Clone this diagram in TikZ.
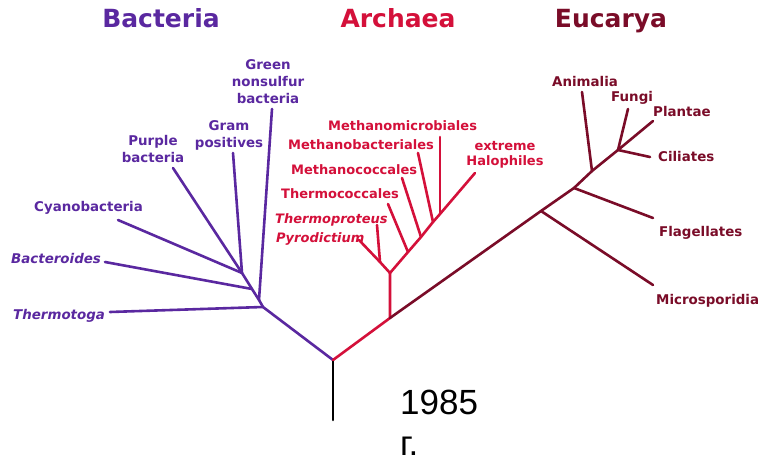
\documentclass[tikz,border=0pt]{standalone}
\usepackage{fontspec}
\setmainfont{DejaVu Sans}
\newfontfamily\arialf{Liberation Sans}
\definecolor{bact}{RGB}{90,40,160}
\definecolor{arch}{RGB}{212,16,58}
\definecolor{euca}{RGB}{122,12,40}
\tikzset{
  lbl/.style={inner sep=0pt, font=\fontsize{13.4}{17}\selectfont\bfseries},
  ilbl/.style={inner sep=0pt, font=\fontsize{13.4}{17}\selectfont\bfseries\itshape},
  albl/.style={inner sep=0pt, font=\fontsize{13}{17}\selectfont\bfseries},
  ailbl/.style={inner sep=0pt, font=\fontsize{13}{17}\selectfont\bfseries\itshape},
  ttl/.style={inner sep=0pt, font=\fontsize{25}{30}\selectfont\bfseries, anchor=base},
  br/.style={line width=2.6pt, line cap=round, line join=round},
}
\begin{document}
\begin{tikzpicture}[x=1pt,y=-1pt]
\useasboundingbox (0,0) rectangle (761,462);
\clip (0,0) rectangle (761,462);
\fill[white] (0,0) rectangle (761,462);

% titles
\node[ttl, text=bact] (tB) at (161,28) {Bacteria};
\node[ttl, text=arch] (tA) at (398,28) {Archaea};
\node[ttl, text=euca] (tE) at (611,28) {Eucarya};

% tree points
\coordinate (R0) at (333,420);
\coordinate (R) at (333,360);
\coordinate (B1) at (263,307);
\coordinate (B2) at (259,300);
\coordinate (B3) at (252,289);
\coordinate (B4) at (242,273);
\coordinate (eThermotoga) at (110,312);
\coordinate (eGreen) at (272,109);
\coordinate (eBacteroides) at (105,262);
\coordinate (eCyano) at (118,220);
\coordinate (ePurple) at (173,168);
\coordinate (eGram) at (233,153);

\coordinate (A1) at (390,318);
\coordinate (A2) at (390,273);
\coordinate (J) at (380,262);
\coordinate (ePyro) at (359,240);
\coordinate (eThermoproteus) at (377,225);
\coordinate (C1) at (408,252);
\coordinate (C2) at (421,237);
\coordinate (C3) at (433,222);
\coordinate (C4) at (440,214);
\coordinate (eHalo) at (475,173);
\coordinate (eThermococ) at (388,204);
\coordinate (eMethcoc) at (402,178);
\coordinate (eMethbac) at (418,153);
\coordinate (eMethmic) at (440,137);

\coordinate (E1) at (541,211);
\coordinate (E2) at (574,188);
\coordinate (E3) at (592,171);
\coordinate (E4) at (618,150);
\coordinate (eMicro) at (653,285);
\coordinate (eFlag) at (653,218);
\coordinate (eAnim) at (582,92);
\coordinate (eCil) at (650,157);
\coordinate (eFungi) at (628,109);
\coordinate (ePlant) at (653,121);

% branches
\draw[br, black] (R0) -- (R);
\draw[br, bact] (R) -- (B1) -- (B2) -- (B3) -- (B4);
\draw[br, bact] (B1) -- (eThermotoga);
\draw[br, bact] (B2) -- (eGreen);
\draw[br, bact] (B3) -- (eBacteroides);
\draw[br, bact] (B4) -- (eCyano);
\draw[br, bact] (B4) -- (ePurple);
\draw[br, bact] (B4) -- (eGram);

\draw[br, arch] (R) -- (A1) -- (A2);
\draw[br, arch] (A2) -- (J) -- (ePyro);
\draw[br, arch] (J) -- (eThermoproteus);
\draw[br, arch] (A2) -- (C1) -- (C2) -- (C3) -- (C4) -- (eHalo);
\draw[br, arch] (C1) -- (eThermococ);
\draw[br, arch] (C2) -- (eMethcoc);
\draw[br, arch] (C3) -- (eMethbac);
\draw[br, arch] (C4) -- (eMethmic);

\draw[br, euca] (A1) -- (E1) -- (E2) -- (E3) -- (E4) -- (ePlant);
\draw[br, euca] (E1) -- (eMicro);
\draw[br, euca] (E2) -- (eFlag);
\draw[br, euca] (E3) -- (eAnim);
\draw[br, euca] (E4) -- (eCil);
\draw[br, euca] (E4) -- (eFungi);

% bacteria labels (multi-line: anchor=base is the last line's baseline)
\node[lbl, text=bact, align=center, anchor=base] (lGreen) at (268,104) {Green\\nonsulfur\\bacteria};
\node[lbl, text=bact, align=center, anchor=base] (lGram) at (229,148) {Gram\\positives};
\node[lbl, text=bact, align=center, anchor=base] (lPurple) at (153,163) {Purple\\bacteria};
\node[lbl, text=bact, anchor=base west] (lCyano) at (34,212) {Cyanobacteria};
\node[ilbl, text=bact, anchor=base west] (lBacteroides) at (11,264) {Bacteroides};
\node[ilbl, text=bact, anchor=base west] (lThermotoga) at (13,320) {Thermotoga};

% archaea labels
\node[albl, text=arch, anchor=base west] (lMethmic) at (328,131) {Methanomicrobiales};
\node[albl, text=arch, anchor=base west] (lMethbac) at (288,150) {Methanobacteriales};
\node[albl, text=arch, anchor=base west] (lMethcoc) at (291,175) {Methanococcales};
\node[albl, text=arch, anchor=base west] (lThermococ) at (281,199) {Thermococcales};
\node[ailbl, text=arch, anchor=base west] (lThermoproteus) at (275,224) {Thermoproteus};
\node[ailbl, text=arch, anchor=base west] (lPyro) at (276,243) {Pyrodictium};
\node[albl, text=arch, align=center, anchor=base, font=\fontsize{13}{15}\selectfont\bfseries] (lHalo) at (505,166) {extreme\\Halophiles};

% eucarya labels
\node[lbl, text=euca, anchor=base west] (lAnim) at (552,87) {Animalia};
\node[lbl, text=euca, anchor=base west] (lFungi) at (611,102) {Fungi};
\node[lbl, text=euca, anchor=base west] (lPlant) at (653,117) {Plantae};
\node[lbl, text=euca, anchor=base west] (lCil) at (658,162) {Ciliates};
\node[lbl, text=euca, anchor=base west] (lFlag) at (659,237) {Flagellates};
\node[lbl, text=euca, anchor=base west] (lMicro) at (656,305) {Microsporidia};

% year
\node[inner sep=0pt, anchor=base west, align=left, font=\arialf\fontsize{35}{41}\selectfont] (year) at (400,456) {1985\\г.};
\end{tikzpicture}
\end{document}
